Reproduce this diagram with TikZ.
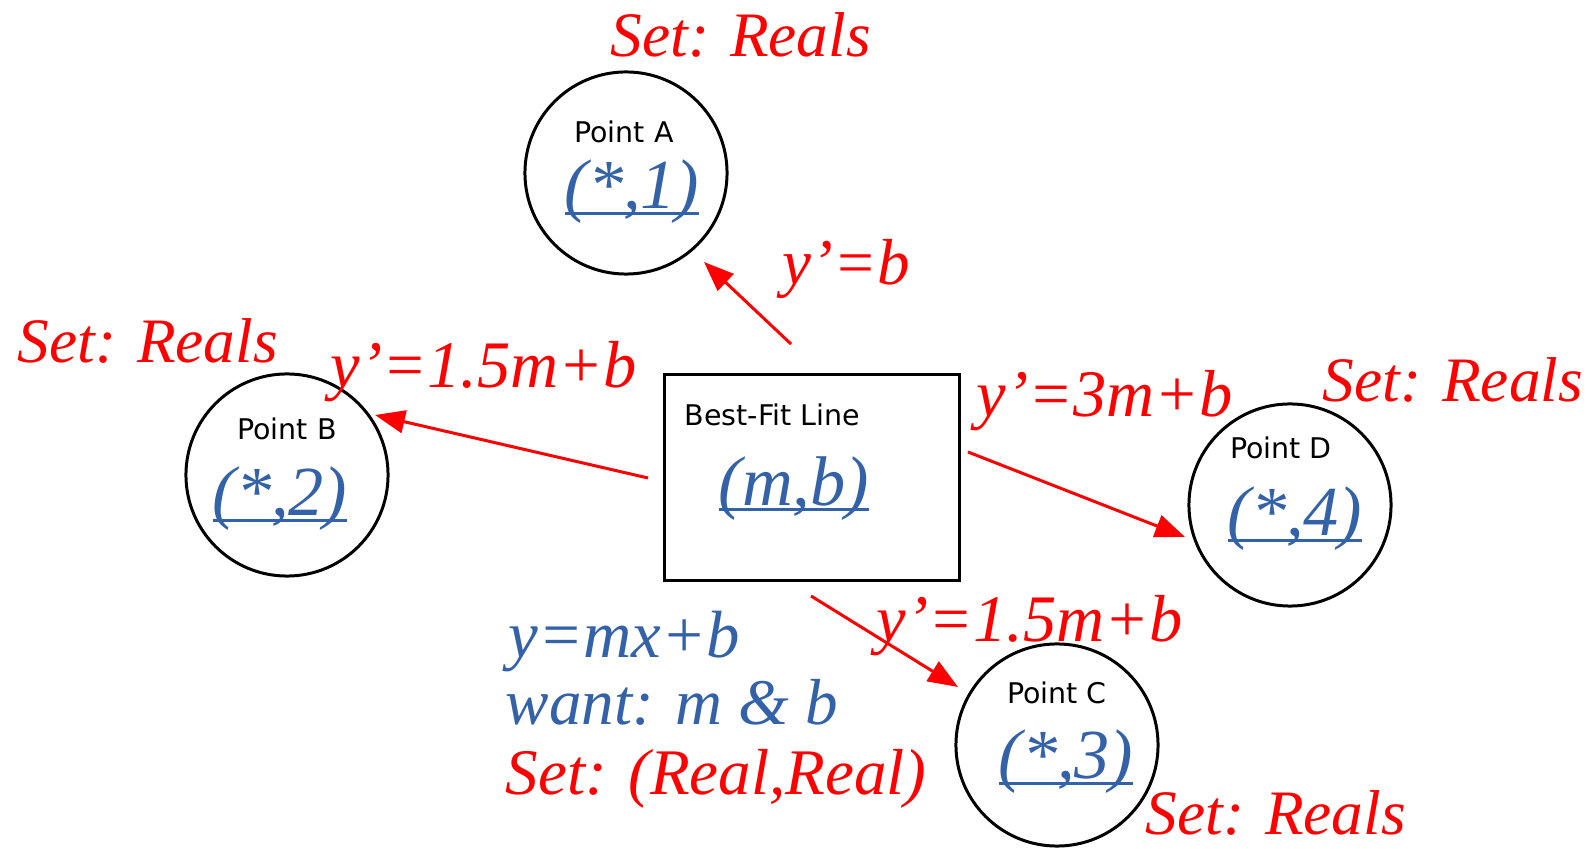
\documentclass[tikz,border=0pt]{standalone}
\usepackage{fontspec}
\setmainfont{Liberation Serif}
\setsansfont{DejaVu Sans}
\usetikzlibrary{arrows.meta, calc}
\definecolor{setred}{RGB}{255,0,0}
\definecolor{pairblue}{RGB}{52,98,168}
\newcommand{\pairlbl}[1]{\setbox0\hbox{#1}\rlap{\rule[-1.6pt]{\wd0}{0.85pt}}\box0}

\begin{document}
\begin{tikzpicture}[x=0.01cm, y=-0.01cm,
  pt/.style={circle, draw=black, line width=0.85pt, minimum size=2.02cm, inner sep=0pt},
  fitbox/.style={rectangle, draw=black, line width=0.8pt, minimum width=2.95cm,
                 minimum height=2.06cm, inner sep=0pt},
  ptname/.style={anchor=base, inner sep=0pt, font=\sffamily\fontsize{8.1}{10}\selectfont},
  pair/.style={anchor=base, inner sep=0pt, text=pairblue,
               font=\itshape\fontsize{20}{24}\selectfont},
  setlbl/.style={anchor=base west, inner sep=0pt, text=#1,
                 font=\itshape\fontsize{18.5}{22}\selectfont},
  setlbl/.default=setred,
  arrow/.style={-{Triangle[length=8.5pt, width=6.5pt]}, draw=setred, line width=0.85pt}
]
  \fill[white] (0,0) rectangle (1596,849);
  \useasboundingbox (0,0) rectangle (1596,849);

  % the line and the four points
  \node[fitbox] (line) at (812,477.5) {};
  \node[pt] (ptA) at (626,173) {};
  \node[pt] (ptB) at (287,475) {};
  \node[pt] (ptC) at (1057,745) {};
  \node[pt] (ptD) at (1290,505) {};

  \node[anchor=base west, inner sep=0pt, font=\sffamily\fontsize{8.1}{10}\selectfont]
    (lineName) at ($(line.north west)+(21,52)$) {Best-Fit Line};
  \node[pair, anchor=base west] (linePair) at ($(line.north west)+(55,132)$) {\pairlbl{(m,b)}};

  \node[ptname] (nameA) at ($(ptA)+(-2,-30)$) {Point A};
  \node[pair]   (pairA) at ($(ptA)+(6,36)$)   {\pairlbl{(*,1)}};
  \node[ptname] (nameB) at ($(ptB)+(0,-35)$)  {Point B};
  \node[pair]   (pairB) at ($(ptB)+(-7,41)$)  {\pairlbl{(*,2)}};
  \node[ptname] (nameC) at ($(ptC)+(0,-41)$)  {Point C};
  \node[pair]   (pairC) at ($(ptC)+(9,34)$)   {\pairlbl{(*,3)}};
  \node[ptname] (nameD) at ($(ptD)+(-9,-46)$) {Point D};
  \node[pair]   (pairD) at ($(ptD)+(5,31)$)   {\pairlbl{(*,4)}};

  % sets
  \node[setlbl, font=\itshape\fontsize{18}{22}\selectfont] (setA) at (610,57)   {Set: Reals};
  \node[setlbl, font=\itshape\fontsize{18}{22}\selectfont] (setB) at (17,363)   {Set: Reals};
  \node[setlbl, font=\itshape\fontsize{18}{22}\selectfont] (setC) at (1145,835) {Set: Reals};
  \node[setlbl, font=\itshape\fontsize{18}{22}\selectfont] (setD) at (1322,402) {Set: Reals};

  % predictions
  \draw[arrow] ($(line.north)+(-21,-29)$) -- ($(ptA)+(78,89)$);
  \draw[arrow] ($(line.west)+(-15,0.5)$) -- ($(ptB)+(88,-60)$);
  \draw[arrow] ($(line.south)+(-1,14)$)  -- ($(ptC)+(-99,-58)$);
  \draw[arrow] ($(line.east)+(7,-25.5)$) -- ($(ptD)+(-105,32)$);
  \node[setlbl] (predA) at (782,285) {y’=b};
  \node[setlbl, font=\itshape\fontsize{18.9}{22}\selectfont] (predB) at (330,388) {y’=1.5m+b};
  \node[setlbl, font=\itshape\fontsize{18.9}{22}\selectfont] (predC) at (876,642) {y’=1.5m+b};
  \node[setlbl, font=\itshape\fontsize{18.9}{22}\selectfont] (predD) at (976,417) {y’=3m+b};

  % model
  \node[setlbl=pairblue, font=\itshape\fontsize{19}{22}\selectfont] (model) at (508,658) {y=mx+b};
  \node[setlbl=pairblue] (want)  at (505,725) {want: m \& b};
  \node[setlbl]          (setMB) at (505,795) {Set: (Real,Real)};
\end{tikzpicture}
\end{document}
